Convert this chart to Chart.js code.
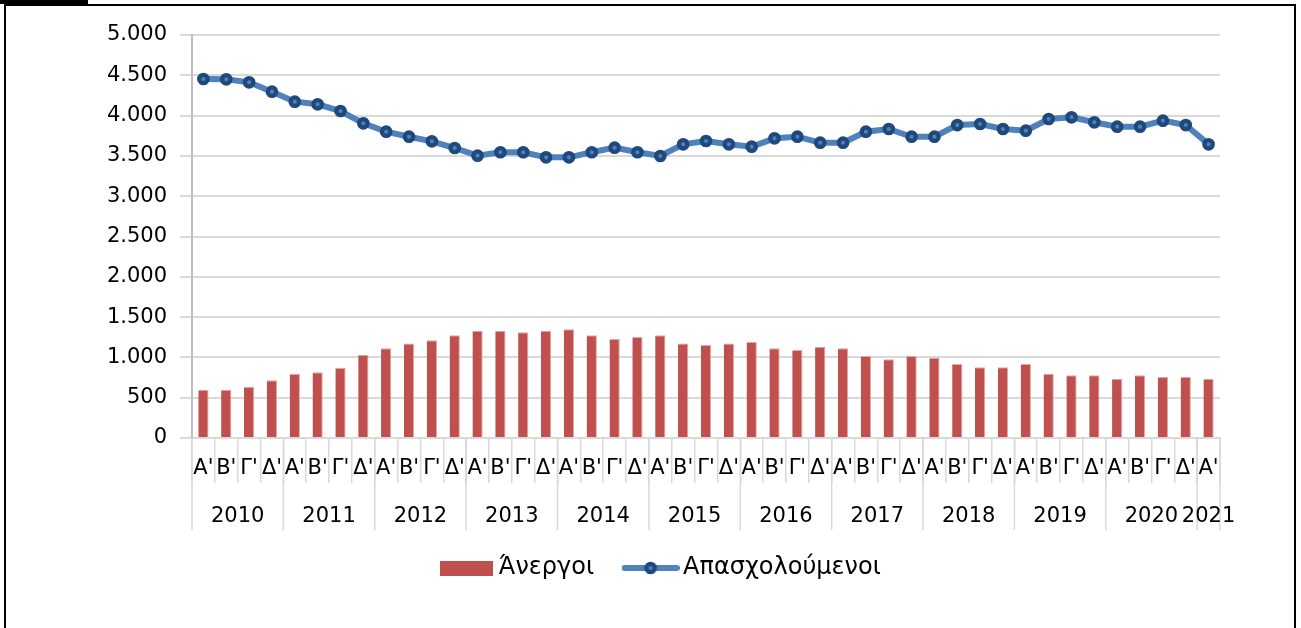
<!DOCTYPE html>
<html>
<head>
<meta charset="utf-8">
<script src="https://cdn.jsdelivr.net/npm/chart.js@4.4.0/dist/chart.umd.min.js"></script>
<style>
  html, body { margin: 0; padding: 0; background: #fff; }
  #wrap { position: relative; width: 1301px; height: 628px; overflow: hidden; }
  #frame { position: absolute; left: 4px; top: 4px; width: 1288px; height: 700px; border: 2px solid #000; }
  #tab { position: absolute; left: 0; top: 0; width: 88px; height: 4px; background: #000; }
  canvas { position: absolute; left: 0; top: 0; }
</style>
</head>
<body>
<div id="wrap">
  <div id="frame"></div>
  <div id="tab"></div>
  <canvas id="myChart" width="1301" height="628"></canvas>
</div>
<script>
const quarters = ["Α'", "Β'", "Γ'", "Δ'"];
const years = ['2010', '2011', '2012', '2013', '2014', '2015', '2016', '2017', '2018', '2019', '2020', '2021'];
const yearQuarters = [4, 4, 4, 4, 4, 4, 4, 4, 4, 4, 4, 1];

// χιλιάδες ατόμων
const unemployed = [
    600, 600, 637, 716, 794, 815, 873, 1034, 1113, 1171, 1212, 1274,
    1332, 1332, 1311, 1332, 1348, 1274, 1228, 1253, 1274, 1171, 1154, 1171,
    1191, 1113, 1092, 1133, 1113, 1017, 976, 1017, 997, 918, 877, 877,
    918, 798, 778, 778, 736, 778, 757, 757, 736
];
const employed = [
    4454, 4450, 4413, 4297, 4173, 4140, 4057, 3904, 3800, 3738, 3681, 3598,
    3503, 3545, 3545, 3482, 3482, 3545, 3602, 3545, 3499, 3644, 3685, 3644,
    3614, 3718, 3738, 3664, 3664, 3800, 3834, 3738, 3738, 3883, 3896, 3834,
    3813, 3958, 3979, 3917, 3863, 3863, 3937, 3883, 3644
];
const yTicks = [0, 500, 1000, 1500, 2000, 2500, 3000, 3500, 4000, 4500, 5000];

const labels = [];
yearQuarters.forEach(n => {
    for (let q = 0; q < n; q++) labels.push(quarters[q]);
});

const FONT = 'DejaVu Sans';
const gridColor = '#D9D9D9';

function fmt(v) {
    return String(v).replace(/\B(?=(\d{3})+(?!\d))/g, '.');
}

// legend icons
const barIcon = document.createElement('canvas');
barIcon.width = 53; barIcon.height = 15;
let c = barIcon.getContext('2d');
c.fillStyle = '#C0504D';
c.fillRect(0, 0, 53, 15);

const lineIcon = document.createElement('canvas');
lineIcon.width = 58; lineIcon.height = 16;
c = lineIcon.getContext('2d');
c.strokeStyle = '#4F81BD';
c.lineWidth = 6;
c.lineCap = 'round';
c.beginPath(); c.moveTo(3, 8); c.lineTo(55, 8); c.stroke();
c.beginPath(); c.arc(29, 8, 4.2, 0, Math.PI * 2);
c.fillStyle = '#4F81BD'; c.fill();
c.lineWidth = 4.3; c.strokeStyle = '#1F497D'; c.stroke();

// year groups under the quarter labels
const yearGroups = {
    id: 'yearGroups',
    afterDraw(chart) {
        const x = chart.scales.x;
        const ctx = chart.ctx;
        const half = (x.getPixelForValue(1) - x.getPixelForValue(0)) / 2;
        const top = chart.chartArea.bottom;
        ctx.save();
        ctx.strokeStyle = gridColor;
        ctx.lineWidth = 1.5;
        ctx.fillStyle = '#000';
        ctx.font = '21px "' + FONT + '"';
        ctx.textAlign = 'center';
        ctx.textBaseline = 'middle';
        let start = 0;
        years.forEach((y, i) => {
            const end = start + yearQuarters[i] - 1;
            const left = x.getPixelForValue(start) - half;
            const right = x.getPixelForValue(end) + half;
            ctx.beginPath(); ctx.moveTo(left, top); ctx.lineTo(left, 530); ctx.stroke();
            if (i === years.length - 1) {
                ctx.beginPath(); ctx.moveTo(right, top); ctx.lineTo(right, 530); ctx.stroke();
            }
            ctx.fillText(y, (left + right) / 2, 517);
            start = end + 1;
        });
        ctx.restore();
    }
};

const ctx = document.getElementById('myChart').getContext('2d');
const myChart = new Chart(ctx, {
    type: 'bar',
    data: {
        labels: labels,
        datasets: [{
                type: 'bar',
                label: 'Άνεργοι',
                data: unemployed,
                backgroundColor: '#C0504D',
                borderColor: '#E3A7A6',
                borderWidth: { top: 1, right: 1, left: 0, bottom: 0 },
                barPercentage: 0.45,
                categoryPercentage: 1
            },
            {
                type: 'line',
                label: 'Απασχολούμενοι',
                data: employed,
                borderColor: '#4F81BD',
                borderWidth: 6,
                tension: 0,
                pointRadius: 4.2,
                pointBorderWidth: 4.3,
                pointBackgroundColor: '#4F81BD',
                pointBorderColor: '#1F497D'
            }
        ]
    },
    options: {
        responsive: false,
        animation: false,
        layout: {
            padding: { left: 106.6, right: 81, top: 35, bottom: 38 }
        },
        scales: {
            x: {
                grid: {
                    offset: true,
                    drawOnChartArea: false,
                    tickLength: 45,
                    color: gridColor,
                    lineWidth: 1.5
                },
                border: { color: gridColor, width: 2 },
                ticks: {
                    autoSkip: false,
                    maxRotation: 0,
                    padding: -27,
                    color: '#000',
                    font: { family: FONT, size: 21 }
                },
                afterFit(scale) { scale.height = 82; }
            },
            y: {
                min: 0,
                max: 5000,
                afterBuildTicks(scale) {
                    scale.ticks = yTicks.map(v => ({ value: v }));
                },
                grid: {
                    color: gridColor,
                    lineWidth: 2,
                    tickLength: 12
                },
                border: { color: '#BFBFBF', width: 2 },
                ticks: {
                    padding: 13,
                    color: '#000',
                    font: { family: FONT, size: 21 },
                    callback: v => fmt(v)
                },
                afterFit(scale) { scale.width = 85.4; }
            }
        },
        plugins: {
            tooltip: { enabled: false },
            legend: {
                position: 'bottom',
                labels: {
                    usePointStyle: true,
                    pointStyleWidth: 41,
                    boxHeight: 15,
                    padding: 36,
                    color: '#000',
                    font: { family: FONT, size: 24 },
                    generateLabels(chart) {
                        const items = Chart.defaults.plugins.legend.labels.generateLabels(chart);
                        items[0].pointStyle = barIcon;
                        items[1].pointStyle = lineIcon;
                        return items;
                    }
                }
            }
        }
    },
    plugins: [yearGroups]
});
</script>
</body>
</html>
